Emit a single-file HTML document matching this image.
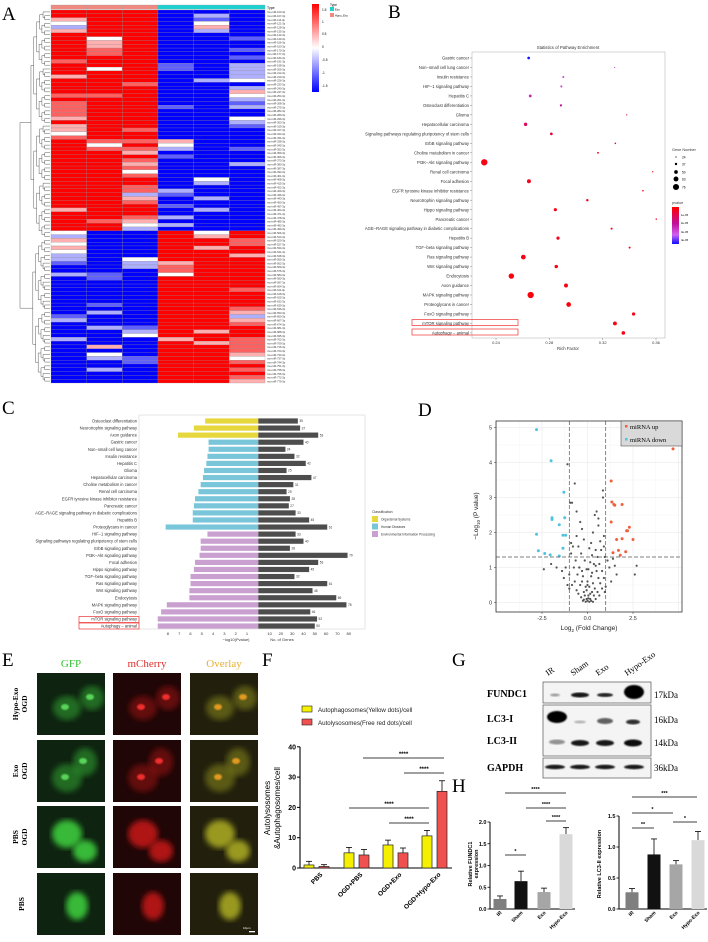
<!DOCTYPE html>
<html><head><meta charset="utf-8"><style>
html,body{margin:0;padding:0;background:#fff;width:708px;height:942px;overflow:hidden}
svg{display:block;font-family:"Liberation Sans",sans-serif}
</style></head><body>
<svg id="fig" width="708" height="942" viewBox="0 0 708 942" xmlns="http://www.w3.org/2000/svg">
<defs>
<filter id="blur2"><feGaussianBlur stdDeviation="3"/></filter>
<filter id="blur1"><feGaussianBlur stdDeviation="0.8"/></filter>
<linearGradient id="hmgrad" x1="0" y1="0" x2="0" y2="1"><stop offset="0" stop-color="#ff0000"/><stop offset="0.5" stop-color="#ffffff"/><stop offset="1" stop-color="#0000ff"/></linearGradient>
<linearGradient id="pgrad" x1="0" y1="0" x2="0" y2="1"><stop offset="0" stop-color="#ff0000"/><stop offset="0.45" stop-color="#c0109a"/><stop offset="0.75" stop-color="#d060f0"/><stop offset="1" stop-color="#1010ff"/></linearGradient>
</defs>
<g font-family="Liberation Serif,serif" font-size="19">
<text x="2" y="20">A</text><text x="388" y="18">B</text><text x="2" y="414">C</text><text x="418" y="416">D</text>
<text x="2" y="666">E</text><text x="262" y="666">F</text><text x="452" y="666">G</text><text x="452" y="792">H</text>
</g>
<g id="pA"></g>
<g id="pB"></g>
<g id="pC"></g>
<g id="pD"></g>
<g id="pE"></g>
<g id="pF"></g>
<g id="pG"></g>
<g id="pH"></g>
</svg>
<script>
// ---------- DATA ----------
const heatRows = ["RRRBBB","RRRBlB","pRRBbB","wRRBwB","lRRBpB","pRRBlB","RRRBBB","RwRBBb","RpRBBB","RpRBBB","RrRBBb","RrRBBB","RRRBBb","rRRBBB","RRRbBl","RwRbBl","RRRBBl","pRRBBl","RRRBlw","RRrBBB","RRRBBl","RRRBBp","rrRBBw","RRRBBl","rRRBBb","rRRbBl","rRRBBB","rRRBBB","pRRBBw","RRRBBl","pRRBBb","pRrBBB","wRRBBB","rRRBBB","RrrpBB","RwRwBB","RrrlBb","RRpBBB","RRRbBB","RRrBBB","RRpBBl","RRrBBB","RRwBBB","RRrBBB","RRRBwB","RRRBlB","RRrBBB","RRrlBB","RRlbBB","RRpBlB","RRrBBB","RRRbBB","pRRBlB","RRRBBB","RRrlBB","RrpBBB","RRwlBB","RRlBBB","wBBRwR","lBBRpR","pBBRRr","wBBRRr","pBBRpR","wBBRRR","lBBRRp","lBwRRR","bBlpRR","BBlrRR","BBBrRR","lbBwRR","BbBRRR","BBBRRR","BBBRRR","BBBRRr","BBBRRR","BBBRRR","BBBRRR","BbBRRR","BBBRRr","BlBRRp","bBBRRl","lBBRRp","BBBRRr","BlbRRR","BBlRpR","BBwRRR","lBBpRr","BBBRpr","BpBRRr","BBBRRr","BwBRRp","BlbRRw","BBbRRr","BBBRRR","BlBRRr","BBBRRR","BBBRRr","BBBRRp"];
const heatLevels = {R:1.6,r:1.0,p:0.5,w:0,l:-0.5,b:-1.0,B:-1.6};

const bPath = ["Gastric cancer","Non−small cell lung cancer","Insulin resistance","HIF−1 signaling pathway","Hepatitis C","Osteoclast differentiation","Glioma","Hepatocellular carcinoma","Signaling pathways regulating pluripotency of stem cells","ErbB signaling pathway","Choline metabolism in cancer","PI3K−Akt signaling pathway","Renal cell carcinoma","Focal adhesion","EGFR tyrosine kinase inhibitor resistance","Neurotrophin signaling pathway","Hippo signaling pathway","Pancreatic cancer","AGE−RAGE signaling pathway in diabetic complications","Hepatitis B","TGF−beta signaling pathway","Ras signaling pathway","Wnt signaling pathway","Endocytosis","Axon guidance","MAPK signaling pathway","Proteoglycans in cancer","FoxO signaling pathway","mTOR signaling pathway","Autophagy − animal"];
const bRich = [0.2645,0.329,0.2905,0.289,0.2657,0.2887,0.338,0.2622,0.2815,0.3295,0.3165,0.2312,0.3575,0.2647,0.3502,0.3085,0.2845,0.3602,0.3267,0.2865,0.3402,0.2605,0.2852,0.2515,0.2925,0.266,0.2945,0.3432,0.3292,0.3355];
const bGenes = [40,24,32,33,42,35,25,47,40,28,31,79,25,53,28,37,45,27,33,45,32,61,48,69,53,78,61,46,52,50];
const bPval = [4.6,3.4,3.2,3.2,2.8,2.2,1.5,1.4,0.8,0.6,0.6,0.3,0.6,0.5,0.5,0.5,0.4,0.5,0.4,0.4,0.4,0.3,0.3,0.2,0.3,0.2,0.2,0.3,0.3,0.3];
const bTicks = [0.24,0.28,0.32,0.36];

const cPath = ["Osteoclast differentiation","Neurotrophin signaling pathway","Axon guidance","Gastric cancer","Non−small cell lung cancer","Insulin resistance","Hepatitis C","Glioma","Hepatocellular carcinoma","Choline metabolism in cancer","Renal cell carcinoma","EGFR tyrosine kinase inhibitor resistance","Pancreatic cancer","AGE−RAGE signaling pathway in diabetic complications","Hepatitis B","Proteoglycans in cancer","HIF−1 signaling pathway","Signaling pathways regulating pluripotency of stem cells","ErbB signaling pathway","PI3K−Akt signaling pathway","Focal adhesion","Hippo signaling pathway","TGF−beta signaling pathway","Ras signaling pathway","Wnt signaling pathway","Endocytosis","MAPK signaling pathway","FoxO signaling pathway","mTOR signaling pathway","Autophagy − animal"];
const cLogP = [4.7,5.7,7.1,4.4,4.4,4.5,4.6,4.8,4.9,5.1,5.3,5.6,5.7,5.8,5.8,8.2,4.5,5.1,5.1,5.2,5.6,5.7,6.0,6.0,6.1,6.1,8.1,8.6,8.9,8.9];
const cGenes = [35,37,53,40,24,32,42,25,47,31,25,28,27,33,45,61,33,40,28,79,53,45,32,61,48,69,78,46,52,50];
const cClass = ["O","O","O","H","H","H","H","H","H","H","H","H","H","H","H","H","E","E","E","E","E","E","E","E","E","E","E","E","E","E"];
const cLeftTicks = [8,7,6,5,4,3,2,1];
const cRightTicks = [10,20,30,40,50,60,70,80];

const volUpX = [4.7,1.3,1.34,1.45,1.5,1.9,1.3,1.6,1.9,2.15,2.3,2.2,2.5,1.7,1.8,2.1,1.4];
const volUpY = [4.39,3.47,2.87,2.8,2.78,2.8,2.3,1.8,1.82,2.05,2.15,2.05,1.8,1.49,1.35,1.45,1.42];
const volDownX = [-2.8,-2.0,-1.3,-1.95,-1.95,-1.25,-1.55,-2.8,-1.35,-1.2,-1.35,-2.7,-2.35,-2.05,-1.55];
const volDownY = [4.94,4.05,3.15,2.42,2.37,2.42,2.22,1.95,1.92,1.92,1.55,1.48,1.4,1.36,1.33];
const volGrayX = [-1.1,-0.7,-0.95,-0.85,0.85,0.85,0.5,0.4,-0.4,-0.3,0.3,0.6,0.9,-0.6,-0.2,0.2,0.7,-0.8,-0.5,0.1,0.45,0.75,-0.9,-0.35,0.25,0.55,0.95,-0.65,-0.15,0.15,0.35,0.65,-0.75,-0.45,-0.05,0.05,0.5,0.8,-1.0,-0.55,-0.25,0.2,0.6,0.9,-0.7,-0.3,0.0,0.3,0.7,-0.85,-0.4,-0.1,0.1,0.4,0.8,-0.6,-0.2,0.25,0.55,0.95,-0.5,-0.15,0.05,0.35,0.65,-0.35,-0.05,0.15,0.45,-0.25,0.0,0.2,-0.1,0.1,0.3,-0.2,0.05,0.15,-0.05,0.0,1.1,1.2,1.4,1.6,-1.2,-1.4,-1.7,-2.0,-2.4,1.5,2.7,2.6,-1.1,1.3,-1.3,0.9,-0.9,1.0,-1.0,0.6,-0.6,0.25,-0.3,0.45,-0.45];
const volGrayY = [3.95,3.4,2.85,2.85,3.2,3.0,2.6,2.5,2.3,2.1,2.0,2.2,1.9,1.9,1.8,1.7,1.75,1.6,1.6,1.55,1.5,1.5,1.4,1.4,1.35,1.3,1.3,1.2,1.2,1.15,1.1,1.1,1.0,1.0,0.95,0.95,0.9,0.9,0.8,0.8,0.75,0.75,0.7,0.7,0.6,0.6,0.6,0.55,0.55,0.5,0.5,0.45,0.45,0.4,0.4,0.35,0.3,0.3,0.3,0.3,0.25,0.2,0.2,0.2,0.2,0.15,0.1,0.1,0.1,0.05,0.05,0.05,0.02,0.02,0.02,0.08,0.12,0.25,0.35,0.5,1.2,1.0,1.25,0.8,1.0,0.9,1.0,1.1,0.95,1.05,1.05,0.8,0.5,0.6,0.7,1.6,1.7,0.45,0.4,2.4,2.6,0.85,0.9,1.05,1.0];

const fCats = ["PBS","OGD+PBS","OGD+Exo","OGD+Hypo-Exo"];
const fYellow = [1.0,5.0,7.6,10.6];
const fYellowErr = [1.2,1.8,1.6,1.8];
const fRed = [0.5,4.3,5.0,25.3];
const fRedErr = [0.6,1.8,1.6,3.5];
const fTicks = [0,10,20,30,40];

const hCats = ["IR","Sham","Exo","Hypo-Exo"];
const hFundc1 = [0.23,0.64,0.39,1.72];
const hFundc1Err = [0.07,0.23,0.09,0.15];
const hLc3 = [0.27,0.88,0.72,1.11];
const hLc3Err = [0.06,0.25,0.06,0.14];
const hTicksL = [0,0.5,1.0,1.5,2.0];
const hTicksR = [0,0.5,1.0,1.5];

// ---------- HELPERS ----------
const NS="http://www.w3.org/2000/svg";
function el(p,tag,attrs,txt){const e=document.createElementNS(NS,tag);for(const k in attrs)e.setAttribute(k,attrs[k]);if(txt!==undefined)e.textContent=txt;p.appendChild(e);return e;}
function line(p,x1,y1,x2,y2,s,w,extra){return el(p,'line',Object.assign({x1,y1,x2,y2,stroke:s||'#000','stroke-width':w||0.5},extra||{}));}
function mix(a,b,t){return a.map((v,i)=>Math.round(v+(b[i]-v)*t));}
function heatColor(v){const t=Math.max(-1.6,Math.min(1.6,v))/1.6; if(t>=0){return 'rgb('+mix([255,255,255],[255,0,0],t).join(',')+')';} return 'rgb('+mix([255,255,255],[0,0,255],-t).join(',')+')';}

// ---------- PANEL A ----------
(function(){
 const g=document.getElementById('pA');
 const x0=51,x1=265,top=10,bot=383,nR=heatRows.length,rh=(bot-top)/nR,cw=(x1-x0)/6;
 for(let c=0;c<6;c++){const r=el(g,'rect',{x:x0+c*cw,y:5,width:cw,height:4.2,fill:c<3?'#f08a80':'#1fd0d0',stroke:'#999','stroke-width':0.3});
  }
 el(g,'text',{x:267,y:9,'font-size':3.5},'Type');
 heatRows.forEach((row,i)=>{
  for(let c=0;c<6;c++){const v=heatLevels[row[c]];
   const r=el(g,'rect',{x:x0+c*cw,y:top+i*rh,width:cw,height:rh,fill:heatColor(v),stroke:'#888','stroke-width':0.25});
   }
  el(g,'text',{x:267,y:top+i*rh+rh*0.85,'font-size':2.6,fill:'#333'},'rno-miR-'+(100+i*7)+'-3p');
 });
 // dendrogram
 function tree(lo,hi){ if(hi-lo===1) return {y:top+lo*rh+rh/2,x:50};
  const mid = (lo===0&&hi===nR)?60:Math.floor((lo+hi)/2);
  const a=tree(lo,mid),b=tree(mid,hi);
  let x = 50-(2.5+2.8*Math.log2(hi-lo)); if(lo===0&&hi===nR) x=20;
  line(g,x,a.y,a.x,a.y,'#333',0.4);line(g,x,b.y,b.x,b.y,'#333',0.4);line(g,x,a.y,x,b.y,'#333',0.4);
  return {y:(a.y+b.y)/2,x:x};}
 tree(0,nR);
 // colorbar
 const cb=el(g,'rect',{x:312,y:4,width:7,height:88,fill:'url(#hmgrad)'});
 
 [[1.5,11],[1,23],[0.5,35],[0,48],[-0.5,61],[-1,74],[-1.5,87]].forEach(t=>el(g,'text',{x:322,y:t[1],'font-size':3.2},String(t[0])));
 el(g,'text',{x:330,y:6,'font-size':3.2},'Type');
 el(g,'rect',{x:330,y:7,width:4,height:4,fill:'#1fd0d0'});el(g,'text',{x:335,y:10.5,'font-size':2.8},'Exo');
 el(g,'rect',{x:330,y:13,width:4,height:4,fill:'#f08a80'});el(g,'text',{x:335,y:16.5,'font-size':2.8},'Hypo_Exo');
})();

// ---------- PANEL B ----------
(function(){
 const g=document.getElementById('pB');
 const L=472,R=665,T=52,B=338;
 const sx=v=>496+(v-0.24)*(160/0.12); const sy=i=>58+i*9.48;
 el(g,'rect',{x:L,y:T,width:R-L,height:B-T,fill:'#fff',stroke:'#bbb','stroke-width':0.6});
 el(g,'text',{x:568,y:49,'font-size':4.3,'text-anchor':'middle',fill:'#333'},'Statistics of Pathway Enrichment');
 function pcol(p){const t=p/4.6; if(t<0.5) return 'rgb('+mix([255,0,0],[190,20,150],t*2).join(',')+')'; if(t<0.8) return 'rgb('+mix([190,20,150],[210,90,240],(t-0.5)/0.3).join(',')+')'; return 'rgb('+mix([210,90,240],[20,20,255],(t-0.8)/0.2).join(',')+')';}
 bPath.forEach((n,i)=>{
  el(g,'text',{x:469,y:sy(i)+1.6,'font-size':4.2,'text-anchor':'end',fill:'#333'},n);
  line(g,470,sy(i),472,sy(i),'#666',0.4);
  const c=el(g,'circle',{cx:sx(bRich[i]),cy:sy(i),r:0.6+(bGenes[i]-24)/55*2.6,fill:pcol(bPval[i])});
  
 });
 el(g,'rect',{x:412,y:319.5,width:106,height:6,fill:'none',stroke:'#e33','stroke-width':0.7});
 el(g,'rect',{x:412,y:329,width:106,height:6,fill:'none',stroke:'#e33','stroke-width':0.7});
 bTicks.forEach(t=>{line(g,sx(t),B,sx(t),B+2,'#666',0.4);el(g,'text',{x:sx(t),y:344,'font-size':4,'text-anchor':'middle',fill:'#333'},t.toFixed(2));});
 el(g,'text',{x:568,y:350,'font-size':4.3,'text-anchor':'middle',fill:'#333'},'Rich Factor');
 el(g,'text',{x:672,y:151,'font-size':3.8,fill:'#333'},'Gene Number');
 [[24,157],[37,164],[50,172],[63,179],[76,187]].forEach(s=>{el(g,'circle',{cx:676,cy:s[1],r:0.6+(s[0]-24)/55*2.6,fill:'#000'});el(g,'text',{x:682,y:s[1]+1.3,'font-size':3.2},String(s[0]));});
 el(g,'text',{x:672,y:204,'font-size':3.8,fill:'#333'},'pvalue');
 el(g,'rect',{x:672,y:207,width:7,height:37,fill:'url(#pgrad)'});
 [['1e-05',216],['2e-05',224],['3e-05',233],['4e-05',241]].forEach(t=>el(g,'text',{x:681,y:t[1],'font-size':2.8},t[0]));
})();

// ---------- PANEL C ----------
(function(){
 const g=document.getElementById('pC');
 const zero=258.3, sl=v=>zero-v*11.3, sr=v=>zero+v*1.13, sy=i=>421+i*7.07;
 const col={O:'#e6d73c',H:'#79c6db',E:'#c9a0d0'};
 el(g,'rect',{x:139,y:415,width:226,height:214,fill:'none',stroke:'#ccc','stroke-width':0.5});
 cPath.forEach((n,i)=>{
  el(g,'text',{x:137,y:sy(i)+1.5,'font-size':4.1,'text-anchor':'end',fill:'#333'},n);
  const a=el(g,'rect',{x:sl(cLogP[i]),y:sy(i)-2.6,width:zero-sl(cLogP[i]),height:5.2,fill:col[cClass[i]]});
  
  const b=el(g,'rect',{x:zero,y:sy(i)-2.6,width:sr(cGenes[i])-zero,height:5.2,fill:'#4d4d4d'});
  
  el(g,'text',{x:sr(cGenes[i])+1.5,y:sy(i)+1.2,'font-size':3.2,fill:'#333'},String(cGenes[i]));
 });
 el(g,'rect',{x:79,y:616.5,width:60,height:6,fill:'none',stroke:'#e33','stroke-width':0.7});
 el(g,'rect',{x:79,y:623,width:60,height:6,fill:'none',stroke:'#e33','stroke-width':0.7});
 cLeftTicks.forEach(t=>el(g,'text',{x:sl(t),y:635,'font-size':4,'text-anchor':'middle',fill:'#333'},String(t)));
 cRightTicks.forEach(t=>el(g,'text',{x:sr(t),y:635,'font-size':4,'text-anchor':'middle',fill:'#333'},String(t)));
 el(g,'text',{x:236,y:641,'font-size':4,'text-anchor':'middle',fill:'#333'},'−log10(Pvalue)');
 el(g,'text',{x:282,y:641,'font-size':4,'text-anchor':'middle',fill:'#333'},'No. of Genes');
 el(g,'text',{x:372,y:513,'font-size':3.5,fill:'#333'},'Classification');
 [['#e6d73c','Organismal Systems'],['#79c6db','Human Diseases'],['#c9a0d0','Environmental Information Processing']].forEach((c,i)=>{
  el(g,'rect',{x:372,y:516+i*7.5,width:6,height:6,fill:c[0]});el(g,'text',{x:381,y:520.5+i*7.5,'font-size':3.2,fill:'#333'},c[1]);});
})();

// ---------- PANEL D ----------
(function(){
 const g=document.getElementById('pD');
 const L=496,R=682,T=421,B=612; const sx=v=>587.5+v*18.2, sy=v=>602.5-v*35;
 el(g,'rect',{x:L,y:T,width:R-L,height:B-T,fill:'#fff'});
 [-5,-2.5,0,2.5,5].forEach(v=>line(g,sx(v),T,sx(v),B,'#e6e6e6',0.5));
 [-3.75,-1.25,1.25,3.75].forEach(v=>line(g,sx(v),T,sx(v),B,'#f2f2f2',0.4));
 [0,1,2,3,4,5].forEach(v=>line(g,L,sy(v),R,sy(v),'#e6e6e6',0.5));
 [0.5,1.5,2.5,3.5,4.5].forEach(v=>line(g,L,sy(v),R,sy(v),'#f2f2f2',0.4));
 volGrayX.forEach((x,i)=>{const c=el(g,'circle',{cx:sx(x),cy:sy(volGrayY[i]),r:1.1,fill:'#555'});});
 volUpX.forEach((x,i)=>{const c=el(g,'circle',{cx:sx(x),cy:sy(volUpY[i]),r:1.5,fill:'#f0603e'});});
 volDownX.forEach((x,i)=>{const c=el(g,'circle',{cx:sx(x),cy:sy(volDownY[i]),r:1.5,fill:'#4fc3df'});});
 const da={'stroke-dasharray':'4,2'};
 line(g,sx(-1),T,sx(-1),B,'#555',0.7,da);line(g,sx(1),T,sx(1),B,'#555',0.7,da);line(g,L,sy(1.3),R,sy(1.3),'#555',0.7,da);
 el(g,'rect',{x:L,y:T,width:R-L,height:B-T,fill:'none',stroke:'#333','stroke-width':0.8});
 [0,1,2,3,4,5].forEach(v=>{line(g,L-2,sy(v),L,sy(v),'#333',0.5);el(g,'text',{x:L-4,y:sy(v)+2,'font-size':5.5,'text-anchor':'end',fill:'#333'},String(v));});
 [[-2.5,'-2.5'],[0,'0.0'],[2.5,'2.5']].forEach(v=>{line(g,sx(v[0]),B,sx(v[0]),B+2,'#333',0.5);el(g,'text',{x:sx(v[0]),y:B+8,'font-size':5.5,'text-anchor':'middle',fill:'#333'},v[1]);});
 const xl=el(g,'text',{x:589,y:630,'font-size':6.5,'text-anchor':'middle',fill:'#222'});xl.innerHTML='Log<tspan font-size="4.5" dy="2">2</tspan><tspan dy="-2"> (Fold Change)</tspan>';
 const yl=el(g,'text',{transform:'translate(478,516) rotate(-90)','font-size':6.5,'text-anchor':'middle',fill:'#222'});yl.innerHTML='−Log<tspan font-size="4.5" dy="2">10</tspan><tspan dy="-2"> (P value)</tspan>';
 el(g,'rect',{x:621,y:421,width:61,height:25,fill:'#d9d9d9',stroke:'#333','stroke-width':0.5});
 el(g,'rect',{x:625,y:425,width:2.5,height:2.5,fill:'#f0603e'});el(g,'text',{x:630,y:429,'font-size':6.5,'font-family':'Liberation Serif,serif'},'miRNA up');
 el(g,'rect',{x:625,y:438,width:2.5,height:2.5,fill:'#4fc3df'});el(g,'text',{x:630,y:442,'font-size':6.5,'font-family':'Liberation Serif,serif'},'miRNA down');
})();

// ---------- PANEL E ----------
(function(){
 const g=document.getElementById('pE');
 const cols=[[37,'GFP','#30c030'],[113,'mCherry','#e03030'],[190,'Overlay','#e8b030']];
 const rowsY=[673,740,806,873]; const rowLab=[['Hypo-Exo','OGD'],['Exo','OGD'],['PBS','OGD'],['PBS','']];
 const bg=['#0e2410','#200606','#22200c'], fg=[['#3ac23a','#5fe05f'],['#b81818','#ff3030'],['#a0a020','#f0a020']];
 const cells=[[[30,35,14,12],[55,25,12,12]],[[30,38,15,14],[48,22,12,14]],[[30,28,15,14],[48,45,12,11]],[[40,33,11,14]]];
 cols.forEach((c,ci)=>{
  el(g,'text',{x:c[0]+34,y:667,'font-size':11,'text-anchor':'middle',fill:c[2],'font-family':'Liberation Serif,serif'},c[1]);
  rowsY.forEach((y,ri)=>{
   const gg=el(g,'g',{});
   el(gg,'rect',{x:c[0],y:y,width:68,height:62,fill:bg[ci]});
   const clip='clip'+ci+'_'+ri; const cp=el(gg,'clipPath',{id:clip});el(cp,'rect',{x:c[0],y:y,width:68,height:62});
   const inner=el(gg,'g',{'clip-path':'url(#'+clip+')'});
   cells[ri].forEach(s=>{el(inner,'ellipse',{cx:c[0]+s[0],cy:y+s[1],rx:s[2],ry:s[3],fill:fg[ci][0],opacity:ri>=2?0.95:0.45,filter:'url(#blur2)'});
     if(ri<2) el(inner,'ellipse',{cx:c[0]+s[0]-2,cy:y+s[1]-1,rx:4,ry:3,fill:fg[ci][1],opacity:0.9,filter:'url(#blur1)'});});
  });
 });
 rowLab.forEach((l,ri)=>{const t=el(g,'text',{transform:'translate('+(l[1]?18:24)+','+(rowsY[ri]+31)+') rotate(-90)','font-size':7.5,'font-weight':'bold','text-anchor':'middle','font-family':'Liberation Serif,serif'},l[0]);
  if(l[1]) el(g,'text',{transform:'translate(27,'+(rowsY[ri]+31)+') rotate(-90)','font-size':7.5,'font-weight':'bold','text-anchor':'middle','font-family':'Liberation Serif,serif'},l[1]);});
 el(g,'rect',{x:249,y:931,width:6,height:1.3,fill:'#fff'});el(g,'text',{x:243,y:929,'font-size':3,fill:'#fff'},'10μm');
})();

// ---------- PANEL F ----------
(function(){
 const g=document.getElementById('pF');
 const ax=300, y0=868, sy=v=>y0-v*3.03, cx=[309,349,388,427];
 el(g,'rect',{x:302,y:706,width:10,height:6,fill:'#f4f000',stroke:'#222','stroke-width':0.6});
 el(g,'text',{x:318,y:712,'font-size':6.2,fill:'#222'},'Autophagosomes(Yellow dots)/cell');
 el(g,'rect',{x:302,y:719,width:10,height:6,fill:'#f05050',stroke:'#222','stroke-width':0.6});
 el(g,'text',{x:318,y:725,'font-size':6.2,fill:'#222'},'Autolysosomes(Free red dots)/cell');
 line(g,ax,sy(40),ax,y0,'#000',1.1);line(g,ax,y0,452,y0,'#000',1.1);
 fTicks.forEach(t=>{line(g,ax-3,sy(t),ax,sy(t),'#000',1);el(g,'text',{x:ax-4,y:sy(t)+2.5,'font-size':7,'font-weight':'bold','text-anchor':'end'},String(t));});
 function bar(x,v,e,f,nm){line(g,x,sy(v),x,sy(v+e),'#000',0.8);line(g,x-3,sy(v+e),x+3,sy(v+e),'#000',0.8);
  const r=el(g,'rect',{x:x-5,y:sy(v),width:10,height:y0-sy(v),fill:f,stroke:'#222','stroke-width':0.7});}
 fCats.forEach((c,i)=>{bar(cx[i],fYellow[i],fYellowErr[i],'#f4f000','autophagosome-bar');bar(cx[i]+15,fRed[i],fRedErr[i],'#f05050','autolysosome-bar');
  el(g,'text',{transform:'translate('+(cx[i]+14)+',875) rotate(-45)','font-size':6.5,'font-weight':'bold','text-anchor':'end'},c);});
 [[363,444,758],[404,444,773],[349,429,808],[389,429,823]].forEach(s=>{line(g,s[0],s[2],s[1],s[2],'#000',0.8);el(g,'text',{x:(s[0]+s[1])/2,y:s[2]-2,'font-size':6,'font-weight':'bold','text-anchor':'middle'},'****');});
 el(g,'text',{transform:'translate(270,808) rotate(-90)','font-size':8,'text-anchor':'middle'},'Autolysosomes');
 el(g,'text',{transform:'translate(280,808) rotate(-90)','font-size':8,'text-anchor':'middle'},'&Autophagosomes/cell');
})();

// ---------- PANEL G ----------
(function(){
 const g=document.getElementById('pG');
 const lanes=[555,580,605,634]; const hdr=['IR','Sham','Exo','Hypo-Exo'];
 hdr.forEach((h,i)=>el(g,'text',{transform:'translate('+(lanes[i]-7)+',676) rotate(-35)','font-size':8.5,'font-family':'Liberation Serif,serif'},h));
 const F='Liberation Serif,serif';
 [[543,682,108,21],[543,705,108,51],[543,758,108,20]].forEach(b=>{const r=el(g,'rect',{x:b[0],y:b[1],width:b[2],height:b[3],fill:'#f4f4f4',stroke:'#555','stroke-width':0.7});});
 function band(x,y,w,h,o){el(g,'ellipse',{cx:x,cy:y,rx:w,ry:h,fill:'#000',opacity:o,filter:'url(#blur1)'});}
 band(555,695,5,1.5,0.35);band(580,695,9,2.5,0.9);band(605,695,8,2,0.85);band(634,692,10,7,1);
 band(557,717,10,6,1);band(580,722,6,1.5,0.25);band(605,721,8,3,0.6);band(633,722,7,2.5,0.8);
 band(557,742,8,2.5,0.4);band(580,743,9,3,0.9);band(605,743,9,3,0.9);band(633,743,9,3.5,0.95);
 lanes.forEach(x=>band(x,767,10,2.2,0.9));
 [['FUNDC1',697],['LC3-I',722],['LC3-II',744],['GAPDH',771]].forEach(l=>el(g,'text',{x:487,y:l[1],'font-size':10,'font-weight':'bold','font-family':F},l[0]));
 [['17kDa',698],['16kDa',723],['14kDa',746],['36kDa',771]].forEach(l=>el(g,'text',{x:654,y:l[1],'font-size':9,'font-family':F},l[0]));
})();

// ---------- PANEL H ----------
(function(){
 const g=document.getElementById('pH');
 const cols=['#7f7f7f','#111111','#a6a6a6','#d9d9d9'];
 function chart(ax,ymax,ticks,vals,errs,cx,top,label,sigs,nm){
  const y0=909, sy=v=>y0-v*(y0-top)/ymax;
  line(g,ax,top,ax,y0,'#000',1);line(g,ax,y0,cx[3]+9,y0,'#000',1);
  ticks.forEach(t=>{line(g,ax-2.5,sy(t),ax,sy(t),'#000',0.8);el(g,'text',{x:ax-3.5,y:sy(t)+2,'font-size':5.5,'font-weight':'bold','text-anchor':'end'},t.toFixed(1));});
  vals.forEach((v,i)=>{line(g,cx[i],sy(v),cx[i],sy(v+errs[i]),'#000',0.8);line(g,cx[i]-3,sy(v+errs[i]),cx[i]+3,sy(v+errs[i]),'#000',0.8);
   const r=el(g,'rect',{x:cx[i]-6.5,y:sy(v),width:13,height:y0-sy(v),fill:cols[i]});
   el(g,'text',{transform:'translate('+(cx[i]+2)+',913) rotate(-45)','font-size':5,'font-weight':'bold','text-anchor':'end'},hCats[i]);});
  sigs.forEach(s=>{line(g,s[0],s[2],s[1],s[2],'#000',0.8);el(g,'text',{x:(s[0]+s[1])/2,y:s[2]-2,'font-size':5.5,'font-weight':'bold','text-anchor':'middle'},s[3]);});
  el(g,'text',{transform:'translate('+(ax-18)+',864) rotate(-90)','font-size':5.5,'font-weight':'bold','text-anchor':'middle'},label[0]);
  if(label[1]) el(g,'text',{transform:'translate('+(ax-12)+',864) rotate(-90)','font-size':5.5,'font-weight':'bold','text-anchor':'middle'},label[1]);
 }
 chart(490,2.0,hTicksL,hFundc1,hFundc1Err,[500,521,544,566],822,['Relative FUNDC1','expression'],[[505,566,793,'****'],[526,566,808,'****'],[546,566,821,'****'],[505,526,855,'*']],'fundc1-bar');
 chart(619,1.5,hTicksR,hLc3,hLc3Err,[632,654,676,698],816,['Relative LC3-II expression',''],[[632,697,797,'***'],[632,673,813,'*'],[632,654,828,'**'],[673,697,822,'*']],'lc3ii-bar');
})();
</script>
</body></html>
